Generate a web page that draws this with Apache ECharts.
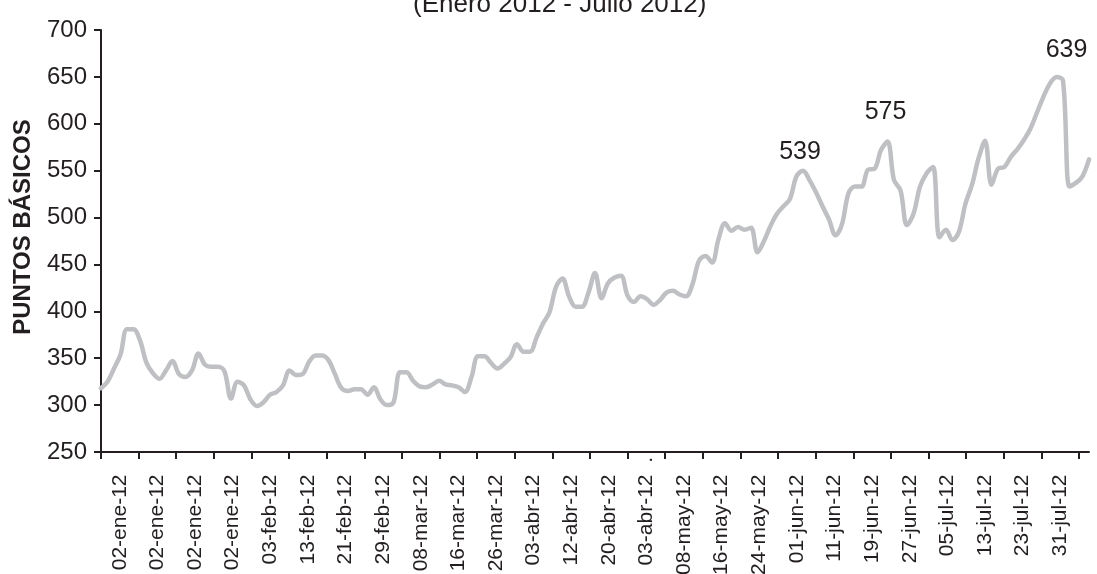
<!DOCTYPE html>
<html>
<head>
<meta charset="utf-8">
<script src="https://cdn.jsdelivr.net/npm/echarts@6/dist/echarts.min.js"></script>
<style>
  html, body { margin: 0; padding: 0; background: #fff; }
  #chart { width: 1097px; height: 574px; }
</style>
</head>
<body>
<div id="chart"></div>
<script>
// tick labels of the visible date axis (one per interval)
const xLabels = [
  '02-ene-12', '02-ene-12', '02-ene-12', '02-ene-12', '03-feb-12', '13-feb-12',
  '21-feb-12', '29-feb-12', '08-mar-12', '16-mar-12', '26-mar-12', '03-abr-12',
  '12-abr-12', '20-abr-12', '03-abr-12  .', '08-may-12', '16-may-12', '24-may-12',
  '01-jun-12', '11-jun-12', '19-jun-12', '27-jun-12', '05-jul-12', '13-jul-12',
  '23-jul-12', '31-jul-12'
]

// daily spread, puntos básicos
const spreads = [
  318, 325, 339, 354, 381, 381, 369, 345, 334, 328,
  337, 347, 333, 330, 337, 355, 343, 341, 341, 336,
  307, 325, 321, 306, 299, 303, 311, 314, 321, 337,
  332, 333, 346, 353, 353, 348, 333, 318, 315, 317,
  317, 311, 319, 306, 300, 303, 335, 335, 326, 320,
  319, 322, 326, 322, 321, 319, 314, 330, 352, 352,
  345, 339, 344, 351, 365, 357, 357, 372, 387, 399,
  426, 435, 416, 405, 405, 420, 441, 414, 430, 436,
  438, 417, 410, 416, 413, 407, 412, 420, 422, 418,
  416, 429, 454, 459, 452, 477, 494, 486, 490, 487,
  489, 463, 475, 491, 504, 512, 520, 544, 550, 540,
  527, 512, 498, 481, 493, 526, 533, 533, 551, 552,
  572, 581, 540, 529, 492, 504, 533, 547, 554, 479,
  487, 476, 485, 515, 535, 563, 582, 535, 552, 554,
  565, 573, 583, 595, 612, 629, 643, 650, 646, 533,
  537, 544, 562
]
const days = spreads.map((_, i) => String(i))

// annotated peaks
const peakIdx = [108, 121, 147]
const peakText = ['539', '575', '639']
const peakOffset = [[-3, -19], [-2, -29], [10, -27]]

const ink = '#231f20'
const font = '"Liberation Sans", Arial, sans-serif'

const chart = echarts.init(document.getElementById('chart'))

chart.setOption({
  backgroundColor: '#fff',
  animation: false,
  title: {
    text: '(Enero 2012 - Julio 2012)',
    left: 413,
    top: -8,
    padding: 0,
    textStyle: { fontFamily: font, fontSize: 26, fontWeight: 'normal', color: ink }
  },
  grid: [
    { left: 101, right: 18, top: 30, bottom: 122, outerBoundsMode: 'none', containLabel: false },
    { left: 101, right: 8, top: 30, bottom: 122, outerBoundsMode: 'none', containLabel: false }
  ],
  xAxis: [
    {
      type: 'category',
      gridIndex: 0,
      data: xLabels,
      boundaryGap: true,
      axisLine: { show: false },
      axisTick: { show: true, interval: 0, length: 7, lineStyle: { color: ink, width: 2 } },
      axisLabel: {
        interval: 0,
        rotate: 90,
        margin: 5,
        fontFamily: font,
        fontSize: 21,
        color: ink,
        formatter: v => v.padEnd(12)
      },
      splitLine: { show: false }
    },
    {
      type: 'category',
      gridIndex: 1,
      data: days,
      boundaryGap: false,
      axisLine: { show: true, lineStyle: { color: ink, width: 2 } },
      axisTick: { show: false },
      axisLabel: { show: false },
      splitLine: { show: false }
    }
  ],
  yAxis: [
    {
      type: 'value',
      gridIndex: 0,
      min: 250,
      max: 700,
      interval: 50,
      name: 'PUNTOS BÁSICOS',
      nameLocation: 'middle',
      nameGap: 66,
      nameTextStyle: {
        fontFamily: font, fontSize: 24, fontWeight: 'bold', color: ink,
        padding: [0, 0, 0, 28]
      },
      axisLine: { show: true, lineStyle: { color: ink, width: 2 } },
      axisTick: { show: true, length: 7, lineStyle: { color: ink, width: 2 } },
      axisLabel: { margin: 14, fontFamily: font, fontSize: 24, color: ink },
      splitLine: { show: false }
    },
    {
      type: 'value',
      gridIndex: 1,
      min: 250,
      max: 700,
      interval: 50,
      show: false,
      splitLine: { show: false }
    }
  ],
  series: [
    {
      name: 'Spread',
      type: 'line',
      xAxisIndex: 1,
      yAxisIndex: 1,
      data: spreads,
      smooth: 0.35,
      symbol: 'none',
      lineStyle: { color: '#bfc0c3', width: 4.5, cap: 'round', join: 'round' },
      markPoint: {
        symbol: 'circle',
        symbolSize: 0,
        itemStyle: { color: 'transparent' },
        label: {
          show: true,
          position: 'inside',
          fontFamily: font,
          fontSize: 25,
          color: ink,
          formatter: p => p.value
        },
        data: peakIdx.map((idx, k) => ({
          coord: [idx, spreads[idx]],
          value: peakText[k],
          label: { offset: peakOffset[k] }
        }))
      }
    }
  ]
})
</script>
</body>
</html>
